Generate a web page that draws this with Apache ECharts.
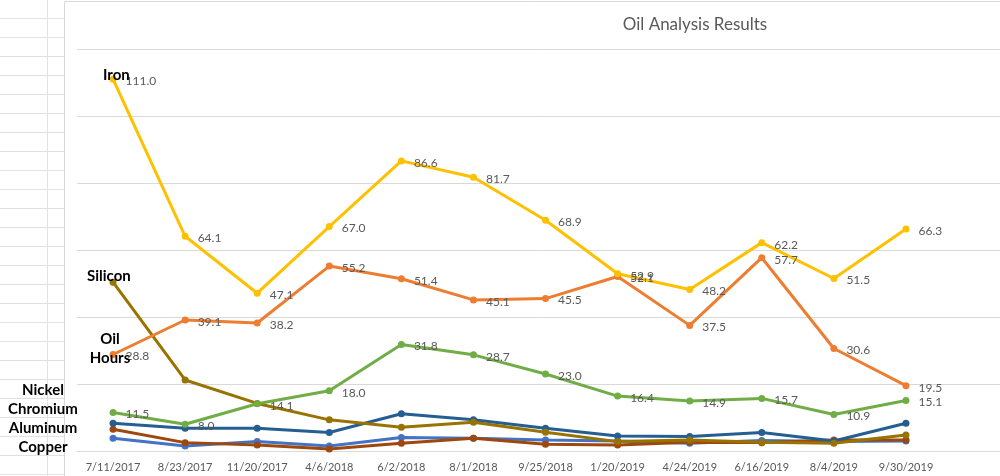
<!DOCTYPE html>
<html>
<head>
<meta charset="utf-8">
<script src="https://cdn.jsdelivr.net/npm/echarts@6/dist/echarts.min.js"></script>
<style>
html,body{margin:0;padding:0;background:#fff;}
#chart{width:1000px;height:476px;}
</style>
</head>
<body>
<div id="chart"></div>
<script>
const categories = ['7/11/2017','8/23/2017','11/20/2017','4/6/2018','6/2/2018','8/1/2018','9/25/2018','1/20/2019','4/24/2019','6/16/2019','8/4/2019','9/30/2019'];
const iron     = [111.0, 64.1, 47.1, 67.0, 86.6, 81.7, 68.9, 52.9, 48.2, 62.2, 51.5, 66.3];
const oilHours = [28.8, 39.1, 38.2, 55.2, 51.4, 45.1, 45.5, 52.1, 37.5, 57.7, 30.6, 19.5];
const silicon  = [50.4, 21.2, 14.2, 9.3, 7.1, 8.6, 5.6, 2.8, 3.3, 2.6, 2.3, 4.8];
const nickel   = [11.5, 8.0, 14.1, 18.0, 31.8, 28.7, 23.0, 16.4, 14.9, 15.7, 10.9, 15.1];
const chromium = [8.3, 6.8, 6.8, 5.5, 11.1, 9.3, 6.8, 4.5, 4.3, 5.5, 3.0, 8.3];
const aluminum = [6.5, 2.5, 1.8, 0.6, 2.3, 3.8, 2.0, 1.8, 2.6, 2.5, 3.3, 3.3];
const copper   = [3.8, 1.5, 2.8, 1.5, 4.0, 3.8, 3.3, 3.0, 2.3, 3.1, 2.8, 3.0];
const sideLabels = ['Nickel', 'Chromium', 'Aluminum', 'Copper'];
const titleText = 'Oil Analysis Results';

const chart = echarts.init(document.getElementById('chart'), null, {renderer: 'canvas'});
const FONT = 'Lato, "Open Sans", sans-serif';

function mkSeries(name, data, color, withLabel) {
  return {
    name: name,
    type: 'line',
    xAxisIndex: 0,
    yAxisIndex: 0,
    data: data,
    symbol: 'circle',
    symbolSize: 7,
    lineStyle: {width: 3, color: color},
    itemStyle: {color: color},
    animation: false,
    label: withLabel ? {
      show: true,
      position: 'right',
      distance: 9,
      offset: [0, 2],
      color: '#595959',
      fontFamily: FONT,
      fontSize: 12,
      formatter: p => Number(p.value).toFixed(1)
    } : {show: false}
  };
}

// spreadsheet background graphics
const graphics = [];
const gridColor = '#E1E1E1';
for (let y = 18; y <= 476; y += 19) {
  graphics.push({type: 'line', silent: true, z: -10, shape: {x1: 0, y1: y + 0.5, x2: 64, y2: y + 0.5}, style: {stroke: gridColor, lineWidth: 1}});
}
graphics.push({type: 'line', silent: true, z: -10, shape: {x1: 47.5, y1: 0, x2: 47.5, y2: 476}, style: {stroke: gridColor, lineWidth: 1}});
graphics.push({type: 'rect', silent: true, z: -9, shape: {x: 64.5, y: 1.5, width: 1000, height: 600}, style: {fill: '#fff', stroke: '#D9D9D9', lineWidth: 1}});
sideLabels.forEach((t, i) => {
  graphics.push({type: 'text', silent: true, z: 10, x: 43, y: 390 + i * 19,
    style: {text: t, fill: '#000', font: 'bold 15px ' + FONT, textAlign: 'center', textVerticalAlign: 'middle'}});
});
graphics.push({type: 'text', silent: true, z: 10, x: 103, y: 75, style: {text: 'Iron', fill: '#000', font: 'bold 15px ' + FONT, textAlign: 'left', textVerticalAlign: 'middle'}});
graphics.push({type: 'text', silent: true, z: 10, x: 87, y: 276, style: {text: 'Silicon', fill: '#000', font: 'bold 15px ' + FONT, textAlign: 'left', textVerticalAlign: 'middle'}});
graphics.push({type: 'text', silent: true, z: 10, x: 110, y: 339, style: {text: 'Oil', fill: '#000', font: 'bold 15px ' + FONT, textAlign: 'center', textVerticalAlign: 'middle'}});
graphics.push({type: 'text', silent: true, z: 10, x: 110, y: 358, style: {text: 'Hours', fill: '#000', font: 'bold 15px ' + FONT, textAlign: 'center', textVerticalAlign: 'middle'}});

const option = {
  backgroundColor: '#fff',
  animation: false,
  title: {
    text: titleText,
    left: 690,
    top: 11,
    textAlign: 'center',
    textStyle: {color: '#595959', fontFamily: FONT, fontSize: 17, fontWeight: 'normal'}
  },
  graphic: graphics,
  grid: [
    {left: 77, top: 49, width: 865, height: 402, containLabel: false},
    {left: 77, top: 49, right: 0, height: 402, containLabel: false}
  ],
  xAxis: [
    {
      type: 'category',
      gridIndex: 0,
      data: categories,
      boundaryGap: true,
      axisLine: {show: false},
      axisTick: {show: false},
      axisLabel: {
        interval: 0,
        color: '#595959',
        fontFamily: FONT,
        fontSize: 11,
        margin: 11
      },
      splitLine: {show: false}
    },
    {
      type: 'value',
      gridIndex: 1,
      min: 0,
      max: 1,
      axisLine: {show: true, onZero: false, lineStyle: {color: '#D9D9D9', width: 1}},
      axisTick: {show: false},
      axisLabel: {show: false},
      splitLine: {show: false}
    }
  ],
  yAxis: [
    {
      type: 'value',
      gridIndex: 0,
      min: 0,
      max: 120,
      interval: 20,
      axisLine: {show: false},
      axisTick: {show: false},
      axisLabel: {show: false},
      splitLine: {show: false}
    },
    {
      type: 'value',
      gridIndex: 1,
      min: 0,
      max: 120,
      interval: 20,
      axisLine: {show: false},
      axisTick: {show: false},
      axisLabel: {show: false},
      splitLine: {lineStyle: {color: '#D9D9D9', width: 1}}
    }
  ],
  series: [
    mkSeries('Copper', copper, '#4472C4', false),
    mkSeries('Aluminum', aluminum, '#9E480E', false),
    mkSeries('Chromium', chromium, '#255E91', false),
    mkSeries('Silicon', silicon, '#997300', false),
    mkSeries('Nickel', nickel, '#70AD47', true),
    mkSeries('Oil Hours', oilHours, '#ED7D31', true),
    mkSeries('Iron', iron, '#FFC000', true)
  ]
};
chart.setOption(option);
</script>
</body>
</html>
